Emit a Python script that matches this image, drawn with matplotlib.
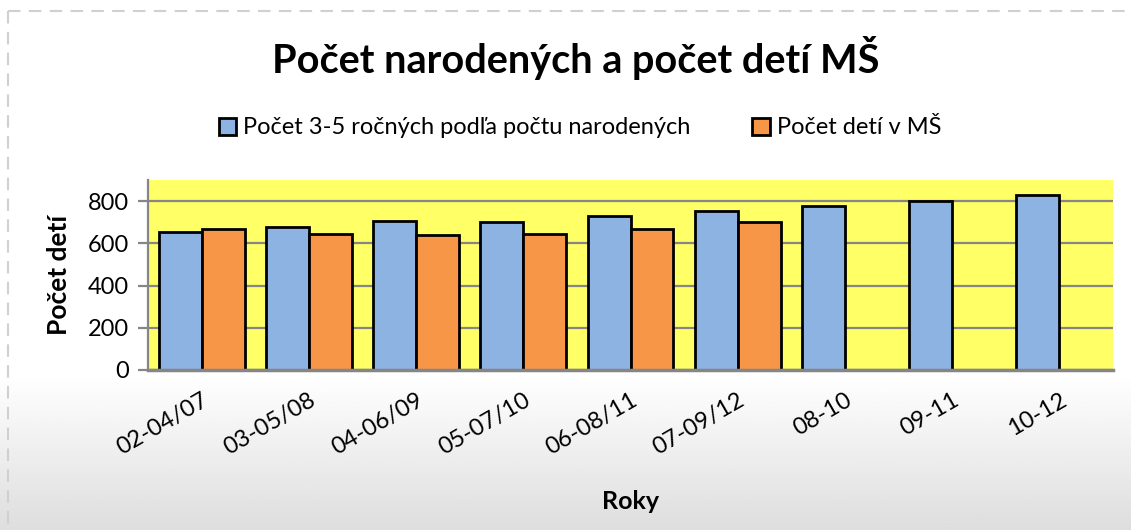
import numpy as np
import matplotlib
matplotlib.use("Agg")
import matplotlib.pyplot as plt
from matplotlib.lines import Line2D

categories = ["02-04/07", "03-05/08", "04-06/09", "05-07/10", "06-08/11",
              "07-09/12", "08-10", "09-11", "10-12"]
narodeni = [655, 675, 705, 700, 729, 754, 778, 801, 828]
deti_ms = [667, 642, 639, 642, 670, 699, np.nan, np.nan, np.nan]
series_names = ["Počet 3-5 ročných podľa počtu narodených", "Počet detí v MŠ"]
yticks = [0, 200, 400, 600, 800]

FONT = ["Lato", "DejaVu Sans"]
plt.rcParams['font.family'] = FONT

W, H = 1131, 530
fig = plt.figure(figsize=(W / 100, H / 100), dpi=100)

# background gradient
bg = fig.add_axes([0, 0, 1, 1], zorder=-10)
bg.set_axis_off()
ys = np.linspace(0, 1, 256)  # 0 = top
vals = np.where(ys < 375 / H, 1.0, 1.0 - (ys - 375 / H) / (1 - 375 / H) * 0.13)
img = np.repeat(vals[:, None], 2, axis=1)
bg.imshow(img, cmap='gray', vmin=0, vmax=1, aspect='auto',
          extent=[0, 1, 0, 1], origin='upper')
bg.set_xlim(0, 1)
bg.set_ylim(0, 1)
# dashed border (top and left)
yt = 1 - 11 / H
xl = 8 / W
bg.add_line(Line2D([xl, 1], [yt, yt], color='#d0d0d0', lw=1.5,
                   dashes=(6, 4), transform=bg.transAxes))
bg.add_line(Line2D([xl, xl], [yt, 0], color='#d0d0d0', lw=1.5,
                   dashes=(6, 4), transform=bg.transAxes))

ax = fig.add_axes([148 / W, 1 - 370 / H, (1113 - 148) / W, (370 - 180) / H])
ax.set_facecolor('#ffff66')
x = np.arange(len(categories))
w = 0.4
ax.bar(x - w / 2, narodeni, width=w, color='#8db3e2', edgecolor='black',
       linewidth=2, zorder=3, label=series_names[0])
ax.bar(x + w / 2, deti_ms, width=w, color='#f79646', edgecolor='black',
       linewidth=2, zorder=3, label=series_names[1])
ax.set_xlim(-0.5, len(categories) - 0.5)
ax.set_ylim(0, 900)
ax.set_yticks(yticks)
ax.yaxis.grid(True, color='#868686', lw=1.6, zorder=1)
ax.set_axisbelow(True)
for s in ['top', 'right']:
    ax.spines[s].set_visible(False)
ax.spines['left'].set_color('#868686')
ax.spines['left'].set_linewidth(1.6)
ax.spines['bottom'].set_color('#868686')
ax.spines['bottom'].set_linewidth(2.5)
ax.spines['bottom'].set_zorder(4)
ax.tick_params(axis='y', length=7.5, width=1.6, color='#868686', labelsize=17, pad=6)
ax.tick_params(axis='x', length=0, labelsize=17, pad=14)
ax.set_xticks(x)
ax.set_xticklabels(categories, rotation=30, ha='right', va='top',
                   rotation_mode='anchor')
ax.set_ylabel("Počet detí", fontsize=19, fontweight='bold')
ax.yaxis.set_label_coords((71 - 148) / (1113 - 148), 0.5)
ax.set_xlabel("Roky", fontsize=18, fontweight='bold')
ax.xaxis.set_label_coords(0.5, -(490 - 370) / (370 - 180))

fig.text(576 / W, 1 - 58 / H, "Počet narodených a počet detí MŠ",
         fontsize=28.5, fontweight='bold', ha='center', va='center')

leg = fig.legend(loc='center', bbox_to_anchor=(580 / W, 1 - 128 / H), ncol=2,
                 frameon=False, fontsize=17, handlelength=0.75, handleheight=0.75,
                 handletextpad=0.3, columnspacing=2.6)
for p in leg.get_patches():
    p.set_linewidth(2)

fig.savefig("out.png", dpi=100)
